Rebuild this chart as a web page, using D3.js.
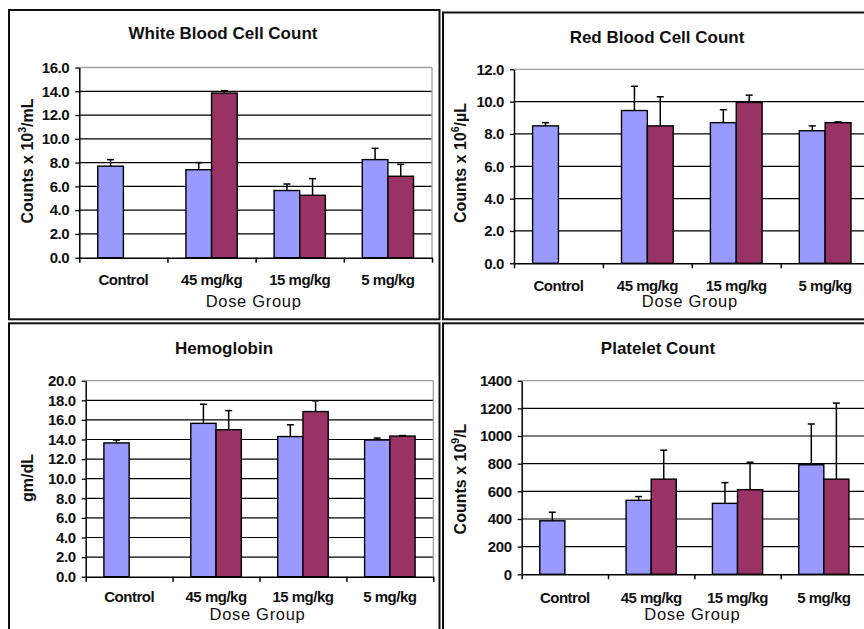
<!DOCTYPE html>
<html lang="en">
<head>
  <meta charset="UTF-8">
  <title>Hematology by Dose Group</title>
  <script src="https://cdn.jsdelivr.net/npm/d3@7"></script>
  <style>
    body { margin: 0; background: #fff; }
    svg { display: block; font-family: "Liberation Sans", Arial, sans-serif; }
  </style>
</head>
<body>
  <svg width="864" height="629"></svg>
<script>
  // dose groups on the x axis
  const groups = ['Control', '45 mg/kg', '15 mg/kg', '5 mg/kg'];

  // series 1 (blue) and series 2 (maroon) means + upper error (SD)
  const wbcBlue = [7.7, 7.4, 5.65, 8.25];
  const wbcBlueErr = [0.55, 0.6, 0.55, 0.95];
  const wbcRed = [null, 13.85, 5.25, 6.85];
  const wbcRedErr = [null, 0.2, 1.4, 1.0];

  const rbcBlue = [8.5, 9.45, 8.7, 8.2];
  const rbcBlueErr = [0.2, 1.5, 0.8, 0.3];
  const rbcRed = [null, 8.5, 9.95, 8.7];
  const rbcRedErr = [null, 1.8, 0.45, 0.05];

  const hgbBlue = [13.65, 15.65, 14.3, 13.95];
  const hgbBlueErr = [0.3, 1.95, 1.2, 0.2];
  const hgbRed = [null, 15.0, 16.85, 14.35];
  const hgbRedErr = [null, 1.95, 1.1, 0.05];

  const pltBlue = [387, 535, 513, 792];
  const pltBlueErr = [62, 27, 150, 295];
  const pltRed = [null, 688, 612, 688];
  const pltRedErr = [null, 210, 198, 550];

  const colors = ['#9999ff', '#993366'];

  const svg = d3.select('svg');

  // panel frames
  const frames = [
    [9, 10, 430.5, 309.3],
    [443, 12.5, 430, 306.8],
    [9, 323.3, 430.5, 320],
    [443, 323.3, 430, 320]
  ];
  svg.selectAll('.frame')
    .data(frames)
    .join('rect')
    .attr('class', 'frame')
    .attr('x', d => d[0])
    .attr('y', d => d[1])
    .attr('width', d => d[2])
    .attr('height', d => d[3])
    .attr('fill', 'none')
    .attr('stroke', '#111')
    .attr('stroke-width', 2);

  const panels = [
    {
      title: 'White Blood Cell Count', ylab: ['Counts x 10', '3', '/mL'],
      blue: wbcBlue, blueErr: wbcBlueErr, red: wbcRed, redErr: wbcRedErr,
      max: 16, step: 2, fmt: '.1f',
      x0: 79.3, x1: 432, y0: 67.5, y1: 257.7,
      titleX: 223, titleY: 39, ylabX: 27, ylabY: 161, catY: 285, doseY: 307
    },
    {
      title: 'Red Blood Cell Count', ylab: ['Counts x 10', '6', '/µL'],
      blue: rbcBlue, blueErr: rbcBlueErr, red: rbcRed, redErr: rbcRedErr,
      max: 12, step: 2, fmt: '.1f',
      x0: 514, x1: 869.6, y0: 69.3, y1: 263.3,
      titleX: 657, titleY: 42.5, ylabX: 460, ylabY: 163, catY: 290.5, doseY: 307
    },
    {
      title: 'Hemoglobin', ylab: ['gm/dL'],
      blue: hgbBlue, blueErr: hgbBlueErr, red: hgbRed, redErr: hgbRedErr,
      max: 20, step: 2, fmt: '.1f',
      x0: 85.7, x1: 433.3, y0: 380.7, y1: 576.7,
      titleX: 224, titleY: 354, ylabX: 27, ylabY: 478, catY: 601.5, doseY: 620
    },
    {
      title: 'Platelet Count', ylab: ['Counts x 10', '9', '/L'],
      blue: pltBlue, blueErr: pltBlueErr, red: pltRed, redErr: pltRedErr,
      max: 1400, step: 200, fmt: 'd',
      x0: 521.7, x1: 867, y0: 380.7, y1: 574.3,
      titleX: 658, titleY: 354, ylabX: 460, ylabY: 479, catY: 602.5, doseY: 620
    }
  ];

  panels.forEach(p => drawPanel(p));

  function drawPanel(p) {
    const g = svg.append('g');

    const xScale = d3.scaleBand().domain(groups).range([p.x0, p.x1]);
    const xInner = d3.scaleBand().domain([0, 1])
      .range([0, xScale.bandwidth()])
      .paddingInner(0).paddingOuter(0.72);
    const yScale = d3.scaleLinear().domain([0, p.max]).range([p.y1, p.y0]);
    const yTicks = d3.range(0, p.max + p.step / 2, p.step);

    // grid lines
    g.append('g')
      .selectAll('line')
      .data(yTicks.slice(1))
      .join('line')
      .attr('x1', p.x0).attr('x2', p.x1)
      .attr('y1', d => yScale(d)).attr('y2', d => yScale(d))
      .attr('stroke', d => d === p.max ? '#a0a0a0' : '#000')
      .attr('stroke-width', d => d === p.max ? 1.3 : 1.2);

    // plot area right edge
    g.append('line')
      .attr('x1', p.x1).attr('x2', p.x1)
      .attr('y1', p.y0).attr('y2', p.y1)
      .attr('stroke', '#a0a0a0').attr('stroke-width', 1.3);

    // bars
    const series = [
      { vals: p.blue, errs: p.blueErr, i: 0 },
      { vals: p.red, errs: p.redErr, i: 1 }
    ];
    series.forEach(s => {
      const rows = groups.map((c, k) => ({ c: c, v: s.vals[k], e: s.errs[k] }))
        .filter(d => d.v !== null);

      g.append('g')
        .selectAll('rect')
        .data(rows)
        .join('rect')
        .attr('x', d => xScale(d.c) + xInner(s.i))
        .attr('y', d => yScale(d.v))
        .attr('width', xInner.bandwidth())
        .attr('height', d => yScale(0) - yScale(d.v))
        .attr('fill', colors[s.i])
        .attr('stroke', '#000')
        .attr('stroke-width', 1.4);

      // error bars (upper only)
      const eb = g.append('g')
        .selectAll('g')
        .data(rows)
        .join('g')
        .attr('transform', d => `translate(${xScale(d.c) + xInner(s.i) + xInner.bandwidth() / 2},0)`);
      eb.append('line')
        .attr('y1', d => yScale(d.v)).attr('y2', d => yScale(d.v + d.e))
        .attr('stroke', '#000').attr('stroke-width', 1.5);
      eb.append('line')
        .attr('x1', -3.5).attr('x2', 3.5)
        .attr('y1', d => yScale(d.v + d.e)).attr('y2', d => yScale(d.v + d.e))
        .attr('stroke', '#000').attr('stroke-width', 1.5);
    });

    // y axis
    const yAxis = g.append('g')
      .attr('transform', `translate(${p.x0},0)`)
      .call(d3.axisLeft(yScale).tickValues(yTicks).tickFormat(d3.format(p.fmt))
        .tickSizeInner(4).tickSizeOuter(0).tickPadding(6));
    yAxis.select('.domain').attr('stroke', '#000').attr('stroke-width', 1.5);
    yAxis.selectAll('.tick line').attr('stroke', '#000').attr('stroke-width', 1.3);
    yAxis.selectAll('.tick text')
      .attr('fill', '#111')
      .attr('font-size', '15px')
      .attr('font-weight', 'bold')
      .attr('letter-spacing', '-0.4px');

    // x axis: ticks at group boundaries
    const edge = d3.scaleLinear().domain([0, groups.length]).range([p.x0, p.x1]);
    const xAxis = g.append('g')
      .attr('transform', `translate(0,${p.y1})`)
      .call(d3.axisBottom(edge).tickValues(d3.range(0, groups.length + 1))
        .tickFormat('').tickSizeInner(5).tickSizeOuter(0));
    xAxis.select('.domain').attr('stroke', '#000').attr('stroke-width', 1.5);
    xAxis.selectAll('.tick line').attr('stroke', '#000').attr('stroke-width', 1.5);

    // category labels
    g.append('g')
      .selectAll('text')
      .data(groups)
      .join('text')
      .attr('x', d => xScale(d) + xScale.bandwidth() / 2)
      .attr('y', p.catY)
      .attr('text-anchor', 'middle')
      .attr('font-size', '15px')
      .attr('font-weight', 'bold')
      .attr('letter-spacing', '-0.5px')
      .attr('fill', '#111')
      .text(d => d);

    // x axis title
    g.append('text')
      .attr('x', (p.x0 + p.x1) / 2 - 2)
      .attr('y', p.doseY)
      .attr('text-anchor', 'middle')
      .attr('font-size', '16.5px')
      .attr('letter-spacing', '0.7px')
      .attr('fill', '#111')
      .text('Dose Group');

    // chart title
    g.append('text')
      .attr('x', p.titleX)
      .attr('y', p.titleY)
      .attr('text-anchor', 'middle')
      .attr('font-size', '17px')
      .attr('font-weight', 'bold')
      .attr('fill', '#111')
      .text(p.title);

    // y axis title
    const yl = g.append('text')
      .attr('transform', `translate(${p.ylabX},${p.ylabY}) rotate(-90)`)
      .attr('text-anchor', 'middle')
      .attr('dominant-baseline', 'central')
      .attr('font-size', '16px')
      .attr('font-weight', 'bold')
      .attr('fill', '#111');
    yl.append('tspan').text(p.ylab[0]);
    if (p.ylab.length > 1) {
      yl.append('tspan').attr('dy', '-5').attr('font-size', '10.5px').text(p.ylab[1]);
      yl.append('tspan').attr('dy', '5').text(p.ylab[2]);
    }
  }
</script>
</body>
</html>
